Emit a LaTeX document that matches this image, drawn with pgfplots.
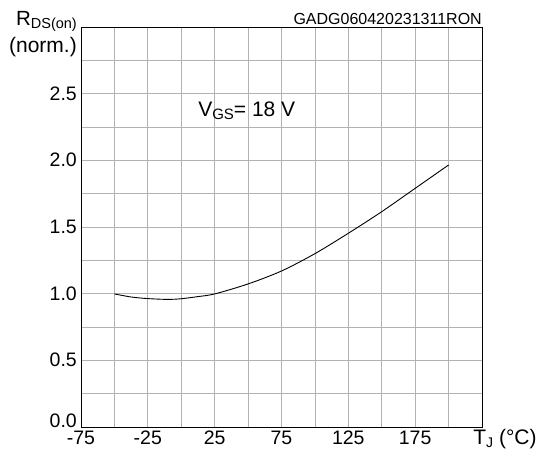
\documentclass[border=0pt]{standalone}
\usepackage{pgfplots}
\pgfplotsset{compat=1.18}
\usepackage{fontspec}
\setmainfont{Liberation Sans}
\newcommand\sub[2][14]{\raisebox{-2.5pt}{\fontsize{#1}{#1}\selectfont #2}}
\begin{document}
\begin{tikzpicture}
\begin{axis}[
  name=ax,
  scale only axis, width=401pt, height=400pt,
  xmin=-75, xmax=225, ymin=0, ymax=3,
  xtick={-75,-25,25,75,125,175},
  minor xtick={-50,0,50,100,150,200},
  ytick={0,0.5,1,1.5,2,2.5},
  yticklabels={\raisebox{5.5pt}{0.0},0.5,1.0,1.5,2.0,2.5},
  minor ytick={0.25,0.75,1.25,1.75,2.25,2.75},
  grid=both,
  grid style={draw=black!30, line width=0.8pt},
  minor grid style={draw=black!30, line width=0.8pt},
  major tick length=0pt, minor tick length=0pt,
  axis line style={black, line width=0.9pt},
  /pgf/number format/assume math mode=true,
  tick label style={font=\fontsize{19.5}{19.5}\selectfont, inner sep=0pt},
  yticklabel style={anchor=base east, xshift=-4pt, yshift=-6.5pt},
  xticklabel style={anchor=base, yshift=-18pt, /pgf/number format/.cd, fixed},
  clip=false,
]
\addplot[black, line width=0.9pt, smooth, tension=0.5] coordinates {
  (-50,0.998) (-37.5,0.975) (-25,0.963) (-10,0.957) (0,0.962) (12.5,0.978) (25,0.998)
  (50,1.073) (75,1.17) (100,1.30) (125,1.453) (150,1.615) (175,1.79) (200,1.965)
};
\node[anchor=base east, font=\fontsize{20.5}{20.5}\selectfont, inner sep=0pt] at ([xshift=-4pt,yshift=1pt]rel axis cs:0,1) {R\sub[14.5]{DS(on)}};
\node[anchor=base east, font=\fontsize{21}{21}\selectfont, inner sep=0pt] at ([xshift=-4pt,yshift=-26pt]rel axis cs:0,1) {(norm.)};
\node[anchor=base east, font=\fontsize{16}{16}\selectfont, inner sep=0pt] at ([yshift=2pt]rel axis cs:1,1) {GADG060420231311RON};
\node[anchor=base west, font=\fontsize{21}{21}\selectfont, inner sep=0pt] at ([yshift=-18pt]rel axis cs:0.978,0) {T\sub[14]{J} (°C)};
\node[anchor=base west, font=\fontsize{21}{21}\selectfont, inner sep=0pt] at (rel axis cs:0.292,0.775) {V\sub[15]{GS}= 18 V};
\end{axis}
\pgfresetboundingbox
\useasboundingbox ([xshift=-81pt,yshift=27pt]ax.north west) rectangle ([xshift=56pt,yshift=-25pt]ax.south east);
\end{tikzpicture}
\end{document}
